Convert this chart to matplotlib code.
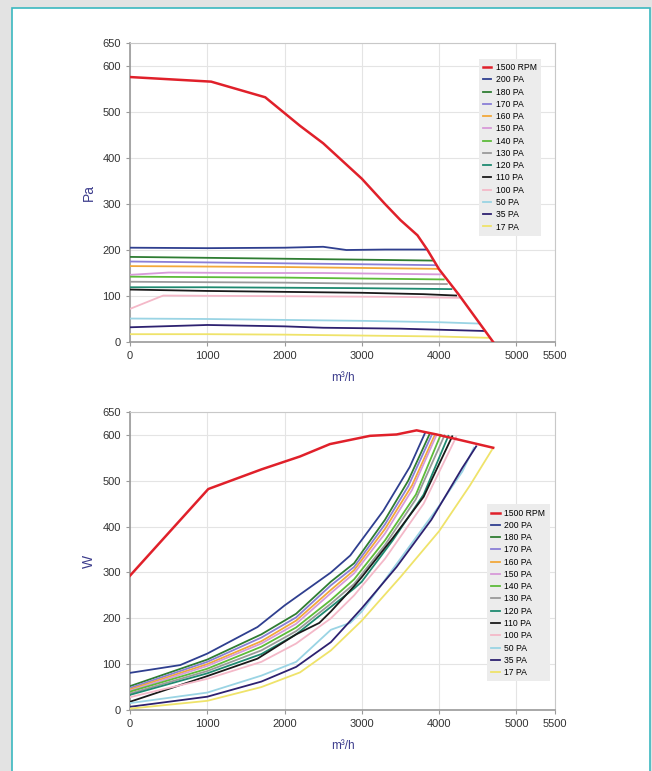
import matplotlib.pyplot as plt
from matplotlib.patches import Rectangle

plt.rcParams['font.family'] = ['Liberation Sans', 'DejaVu Sans']

labels = ['1500 RPM', '200 PA', '180 PA', '170 PA', '160 PA', '150 PA', '140 PA',
          '130 PA', '120 PA', '110 PA', '100 PA', '50 PA', '35 PA', '17 PA']
colors = ['#e0202a', '#2f3f8f', '#2f7d32', '#8a7fd6', '#f2a83a', '#d79ad9', '#5dbb3a',
          '#9a9a9a', '#1f8a70', '#1a1a1a', '#f4b8c8', '#9ad4e4', '#2d2170', '#efe36a']

# pressure curves (m3/h, Pa)
pa_rpm_x = [0, 1050, 1750, 2200, 2500, 3000, 3300, 3500, 3720, 3850, 4000, 4250, 4700]
pa_rpm_y = [576, 566, 532, 470, 432, 355, 300, 265, 232, 200, 158, 104, 0]
pa200_x = [0, 1000, 2000, 2500, 2800, 3300, 3840]
pa200_y = [205, 204, 205, 207, 200, 201, 201]
pa180_x = [0, 1000, 2000, 3000, 3920]
pa180_y = [185, 183, 181, 179, 177]
pa170_x = [0, 1000, 2000, 3000, 3950]
pa170_y = [175, 173, 171, 169, 167]
pa160_x = [0, 1000, 2000, 3000, 3980]
pa160_y = [165, 164, 163, 161, 159]
pa150_x = [0, 500, 1500, 2500, 3500, 4020]
pa150_y = [146, 151, 150, 150, 148, 147]
pa140_x = [0, 1000, 2000, 3000, 4060]
pa140_y = [142, 141, 140, 138, 136]
pa130_x = [0, 1000, 2000, 3000, 4100]
pa130_y = [131, 130, 129, 127, 126]
pa120_x = [0, 1000, 2000, 3000, 4160]
pa120_y = [119, 119, 118, 117, 115]
pa110_x = [0, 1000, 2000, 3000, 3800, 4220]
pa110_y = [114, 111, 109, 107, 104, 101]
pa100_x = [0, 430, 1500, 2500, 3500, 4260]
pa100_y = [72, 101, 100, 99, 98, 96]
pa50_x = [0, 1000, 2000, 3000, 4000, 4530]
pa50_y = [51, 50, 48, 46, 43, 40]
pa35_x = [0, 1000, 2000, 2500, 3500, 4580]
pa35_y = [32, 37, 34, 31, 29, 24]
pa17_x = [0, 1000, 2000, 3000, 4000, 4650]
pa17_y = [17, 17, 16, 14, 12, 9]

# power curves (m3/h, W)
w_rpm_x = [0, 1013, 1704, 2200, 2587, 3105, 3450, 3709, 3967, 4700]
w_rpm_y = [293, 482, 525, 553, 580, 598, 601, 610, 601, 572]
w200_x = [0, 650, 1000, 1650, 2000, 2600, 2850, 3280, 3620, 3820]
w200_y = [81, 98, 123, 181, 228, 300, 337, 435, 530, 605]
w180_x = [0, 1000, 1700, 2150, 2600, 2900, 3300, 3600, 3880]
w180_y = [52, 110, 165, 210, 280, 320, 415, 500, 603]
w170_x = [0, 1000, 1700, 2150, 2600, 2900, 3300, 3600, 3910]
w170_y = [48, 105, 158, 202, 272, 312, 405, 488, 602]
w160_x = [0, 1000, 1700, 2150, 2600, 2900, 3300, 3650, 3950]
w160_y = [45, 100, 150, 195, 262, 305, 395, 490, 602]
w150_x = [0, 1000, 1700, 2150, 2600, 2900, 3300, 3650, 3970]
w150_y = [42, 96, 145, 188, 255, 298, 385, 480, 601]
w140_x = [0, 1000, 1700, 2150, 2600, 2900, 3300, 3700, 4020]
w140_y = [40, 90, 138, 180, 240, 285, 370, 470, 600]
w130_x = [0, 1000, 1700, 2150, 2600, 2900, 3300, 3700, 4070]
w130_y = [36, 85, 130, 172, 232, 275, 360, 460, 599]
w120_x = [0, 1000, 1700, 2150, 2600, 2900, 3000, 3400, 3800, 4120]
w120_y = [33, 80, 122, 165, 225, 265, 280, 370, 470, 598]
w110_x = [0, 1000, 1650, 2150, 2450, 2600, 2900, 3000, 3400, 3800, 4170]
w110_y = [18, 74, 112, 165, 190, 215, 270, 290, 375, 465, 597]
w100_x = [0, 1000, 1700, 2150, 2600, 2900, 3300, 3800, 4220]
w100_y = [28, 68, 105, 145, 200, 250, 330, 450, 595]
w50_x = [0, 1000, 1700, 2150, 2600, 2850, 3000, 3500, 4000, 4300, 4450]
w50_y = [15, 38, 75, 105, 175, 190, 215, 330, 445, 520, 572]
w35_x = [0, 1000, 1700, 2150, 2600, 3000, 3450, 3900, 4300, 4480]
w35_y = [7, 29, 62, 94, 148, 222, 312, 415, 528, 575]
w17_x = [0, 1000, 1700, 2200, 2600, 3000, 3500, 4000, 4400, 4700]
w17_y = [3, 20, 50, 82, 130, 195, 290, 390, 490, 572]

pa_series = [(pa_rpm_x, pa_rpm_y), (pa200_x, pa200_y), (pa180_x, pa180_y), (pa170_x, pa170_y),
             (pa160_x, pa160_y), (pa150_x, pa150_y), (pa140_x, pa140_y), (pa130_x, pa130_y),
             (pa120_x, pa120_y), (pa110_x, pa110_y), (pa100_x, pa100_y), (pa50_x, pa50_y),
             (pa35_x, pa35_y), (pa17_x, pa17_y)]
w_series = [(w_rpm_x, w_rpm_y), (w200_x, w200_y), (w180_x, w180_y), (w170_x, w170_y),
            (w160_x, w160_y), (w150_x, w150_y), (w140_x, w140_y), (w130_x, w130_y),
            (w120_x, w120_y), (w110_x, w110_y), (w100_x, w100_y), (w50_x, w50_y),
            (w35_x, w35_y), (w17_x, w17_y)]

x_ticks = [0, 1000, 2000, 3000, 4000, 5000, 5500]
y_ticks = [0, 100, 200, 300, 400, 500, 600, 650]

fig = plt.figure(figsize=(6.52, 7.71), dpi=100)
fig.patch.set_facecolor('#e3e3e3')
panel = Rectangle((12 / 652, -0.01), 638 / 652, 1 - 8 / 771 + 0.01,
                  transform=fig.transFigure, facecolor='white',
                  edgecolor='#3bb8c0', linewidth=1.2, zorder=-10)
fig.add_artist(panel)

ax1 = fig.add_axes([130 / 652, 1 - 342 / 771, 425 / 652, 299 / 771])
ax2 = fig.add_axes([130 / 652, 1 - 710 / 771, 425 / 652, 298 / 771])


def style(ax, series, ylabel, leg_box):
    for i, (xs, ys) in enumerate(series):
        if i == 0:
            ax.plot(xs, ys, color=colors[i], lw=1.8, label=labels[i], zorder=5)
        else:
            ax.plot(xs, ys, color=colors[i], lw=1.3, label=labels[i], zorder=3)
    ax.set_xlim(0, 5500)
    ax.set_ylim(0, 650)
    ax.set_xticks(x_ticks)
    ax.set_yticks(y_ticks)
    ax.grid(True, color='#e4e4e4', lw=0.8)
    ax.set_axisbelow(True)
    for s in ['left', 'bottom']:
        ax.spines[s].set_color('#9a9a9a')
        ax.spines[s].set_linewidth(1.2)
    for s in ['top', 'right']:
        ax.spines[s].set_color('#c8c8c8')
        ax.spines[s].set_linewidth(0.8)
    ax.tick_params(labelsize=8, colors='#9a9a9a', labelcolor='#333333', length=3)
    ax.set_xlabel('m³/h', color='#3c3c8c', fontsize=8.5, labelpad=8)
    ax.set_ylabel(ylabel, color='#3c3c8c', fontsize=10, labelpad=5)
    leg = ax.legend(loc='upper left', bbox_to_anchor=leg_box, fontsize=6.2,
                    frameon=True, fancybox=False, framealpha=1, handlelength=1.0,
                    handletextpad=0.5, labelspacing=0.38, borderpad=0.5)
    leg.get_frame().set_facecolor('#ececec')
    leg.get_frame().set_edgecolor('none')


style(ax1, pa_series, 'Pa', (0.81, 0.962))
style(ax2, w_series, 'W', (0.83, 0.705))

fig.savefig('out.png', dpi=100, facecolor=fig.get_facecolor())
